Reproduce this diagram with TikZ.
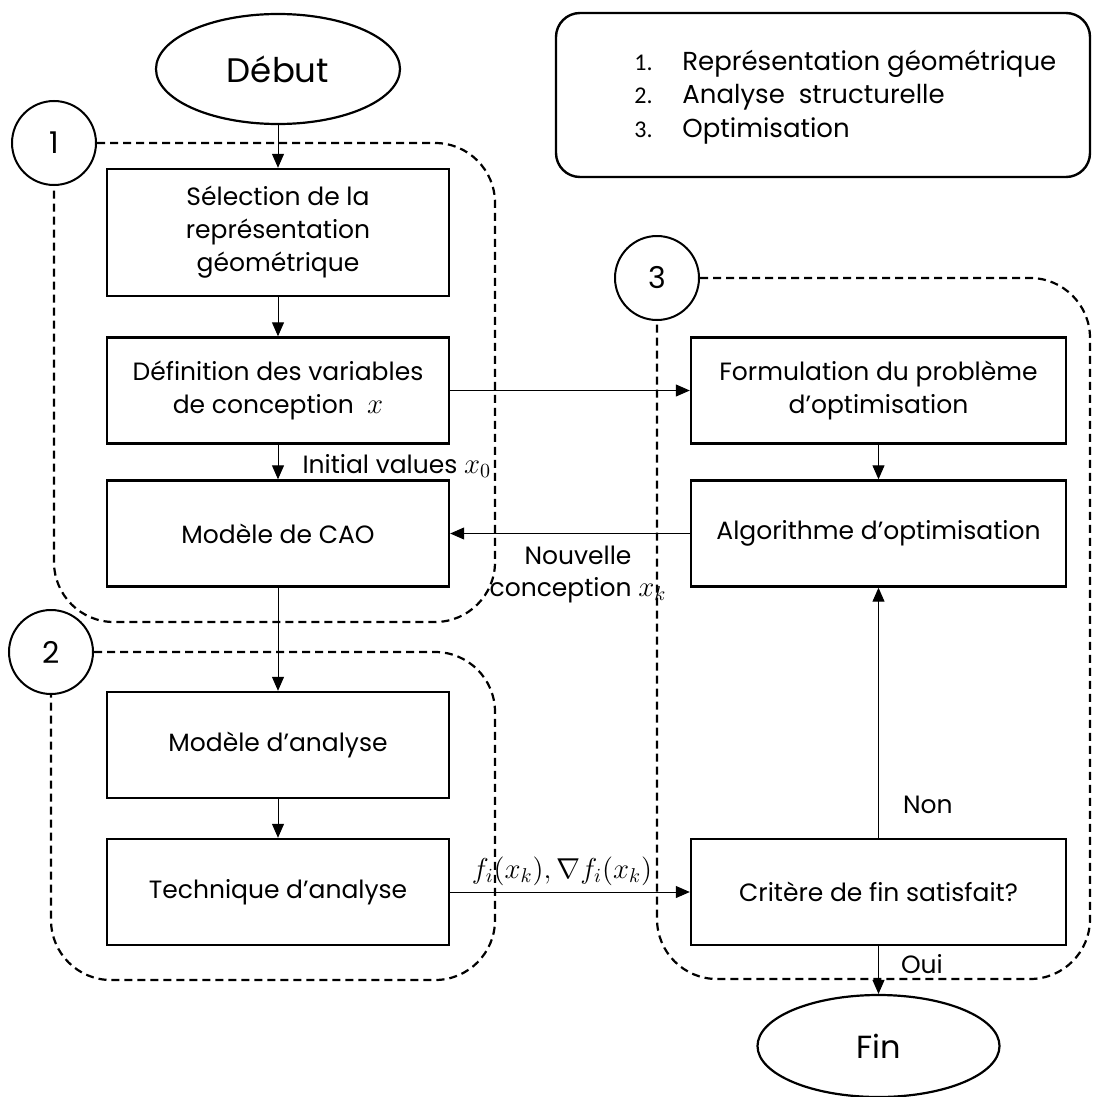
\documentclass[tikz,border=0pt]{standalone}
\usepackage{fontspec}
\setmainfont{Poppins}
\newfontfamily\numfont{Carlito}
\usetikzlibrary{arrows.meta,shapes.geometric}

\begin{document}
\begin{tikzpicture}[x=0.5pt, y=-0.5pt,
    box/.style = {draw, line width=1.2pt, minimum width=171pt, minimum height=53pt, align=center, font=\fontsize{12.5}{16.5}\selectfont},
    wbox/.style = {box, minimum width=187.5pt},
    term/.style = {draw, ellipse, line width=1.1pt, minimum width=122pt, minimum height=55pt, font=\fontsize{17}{20}\selectfont},
    num/.style = {draw, circle, line width=1pt, minimum size=42pt, inner sep=0pt, font=\fontsize{15}{18}\selectfont},
    zone/.style = {line width=1.1pt, dash pattern=on 4pt off 2.5pt, rounded corners=30pt},
    arr/.style = {-{Triangle[length=7pt,width=6pt]}, line width=0.5pt},
    lbl/.style = {font=\fontsize{12.5}{16}\selectfont, inner sep=0pt}]
    \useasboundingbox (0,0) rectangle (1092,1097);

    % legende
    \node[draw, line width=1.2pt, rounded corners=12pt, minimum width=267pt, minimum height=82pt] (leg) at (823,95) {};
    \node[anchor=west, align=left, inner sep=0pt, font=\fontsize{13}{16.8}\selectfont] (legtxt) at (634,97)
      {\makebox[24pt][l]{\numfont\fontsize{12}{16.8}\selectfont 1.}Représentation géométrique\\
       \makebox[24pt][l]{\numfont\fontsize{12}{16.8}\selectfont 2.}Analyse\ \ structurelle\\
       \makebox[24pt][l]{\numfont\fontsize{12}{16.8}\selectfont 3.}Optimisation};

    % colonne gauche
    \node[term] (debut) at (278,69) {Début};
    \node[box, minimum height=63.5pt] (sel) at (278,232.5) {Sélection de la\\représentation\\géométrique};
    \node[box] (def) at (278,390.5) {Définition des variables\\de conception\ \ {\fontsize{14.4}{16.5}\selectfont$x$}};
    \node[box] (cao) at (278,533.5) {Modèle de CAO};
    \node[box] (ana) at (278,745) {Modèle d’analyse};
    \node[box] (tech) at (278,892) {Technique d’analyse};

    % colonne droite
    \node[wbox] (form) at (878.5,390.5) {Formulation du problème\\d’optimisation};
    \node[wbox] (algo) at (878.5,533.5) {Algorithme d’optimisation};
    \node[wbox] (crit) at (878.5,892) {Critère de fin satisfait?};
    \node[term, minimum width=121pt, minimum height=51pt, font=\fontsize{16}{19}\selectfont] (fin) at (878.5,1046) {Fin};

    % zones
    \node[num] (c1) at (54,143) {1};
    \node[num] (c2) at (51,652) {2};
    \node[num] (c3) at (657,278) {3};
    \draw[zone] (c1.east) -| (495,622) -| (c1.south);
    \draw[zone] (c2.east) -| (495,980) -| (c2.south);
    \draw[zone] (c3.east) -| (1090,979) -| (c3.south);

    % fleches
    \draw[arr] (debut) -- (sel);
    \draw[arr] (sel) -- (def);
    \draw[arr] (def) -- node[lbl, right, xshift=12pt, yshift=-2pt] {Initial values {\fontsize{14.4}{16}\selectfont$x_0$}} (cao);
    \draw[arr] (cao) -- (ana);
    \draw[arr] (ana) -- (tech);
    \draw[arr] (def) -- (form);
    \draw[arr] (form) -- (algo);
    \draw[arr] (algo) -- node[lbl, below, align=center, xshift=4pt, yshift=-6pt] {Nouvelle\\conception {\fontsize{14.4}{16}\selectfont$x_k$}} (cao);
    \draw[arr] (tech) -- node[lbl, above, xshift=-4pt, yshift=3pt, font=\fontsize{14.4}{18}\selectfont] {$f_i(x_k),\nabla f_i(x_k)$} (crit);
    \draw[arr] (crit) -- node[lbl, pos=0.13, right, xshift=12pt] {Non} (algo);
    \draw[arr] (crit) -- node[lbl, pos=0.38, right, xshift=11pt] {Oui} (fin);
\end{tikzpicture}
\end{document}
